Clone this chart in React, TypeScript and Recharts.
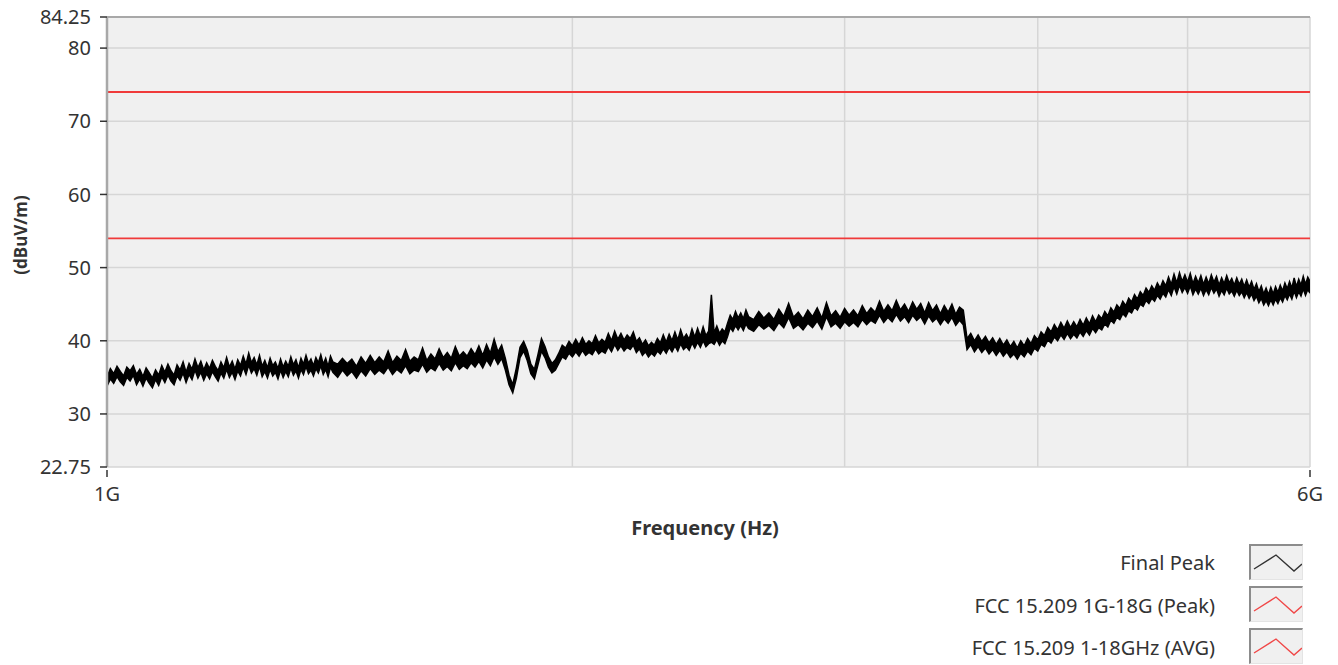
import React from "react";
import {
  ComposedChart,
  Area,
  Line,
  XAxis,
  YAxis,
  CartesianGrid,
  ReferenceLine,
} from "recharts";

// Final Peak trace, [frequency MHz, band bottom dBuV/m, band top dBuV/m]
const traceLow: [number, number, number][] = [
  [1000, 33.8, 35.0], [1005, 34.8, 36.2], [1010, 34.2, 35.5], [1015, 35.1, 36.5], [1020, 34.4, 35.8],
  [1025, 33.9, 35.2], [1030, 35.0, 36.4], [1035, 34.5, 35.9], [1040, 35.3, 36.6], [1045, 34.0, 35.4],
  [1050, 34.8, 36.1], [1055, 33.8, 35.1], [1060, 34.9, 36.3], [1065, 34.2, 35.6], [1070, 33.6, 34.9],
  [1075, 34.7, 36.0], [1080, 33.9, 35.3], [1085, 35.1, 36.6], [1090, 34.3, 35.7], [1095, 35.3, 36.8],
  [1100, 34.5, 35.9], [1105, 34.0, 35.3], [1110, 35.2, 36.7], [1115, 34.6, 36.0], [1120, 35.6, 37.1],
  [1125, 34.3, 35.7], [1130, 35.4, 36.9], [1135, 34.7, 36.1], [1140, 36.0, 37.5], [1145, 34.9, 36.3],
  [1150, 35.7, 37.2], [1155, 34.6, 36.0], [1160, 35.5, 37.0], [1165, 34.8, 36.2], [1170, 35.8, 37.3],
  [1175, 35.1, 36.5], [1180, 34.5, 35.9], [1185, 35.6, 37.1], [1190, 34.9, 36.3], [1195, 36.1, 37.7],
  [1200, 35.0, 36.4], [1205, 35.7, 37.2], [1210, 34.7, 36.1], [1215, 35.9, 37.4], [1220, 35.2, 36.6],
  [1225, 36.4, 37.9], [1230, 35.4, 36.8], [1235, 36.7, 38.3], [1240, 35.6, 37.0], [1245, 36.2, 37.7],
  [1250, 35.3, 36.7], [1255, 36.5, 38.0], [1260, 35.1, 36.5], [1265, 35.8, 37.3], [1270, 34.9, 36.3],
  [1275, 36.1, 37.6], [1280, 35.2, 36.6], [1285, 35.7, 37.1], [1290, 34.8, 36.2], [1295, 36.0, 37.5],
  [1300, 35.0, 36.4], [1305, 35.8, 37.2], [1310, 35.1, 36.5], [1315, 36.3, 37.8], [1320, 35.3, 36.7],
  [1325, 35.9, 37.4], [1330, 34.9, 36.3], [1335, 36.1, 37.6], [1340, 35.4, 36.8], [1345, 36.5, 38.0],
  [1350, 35.5, 36.9], [1355, 36.0, 37.5], [1360, 35.2, 36.6], [1365, 36.2, 37.7], [1370, 35.6, 37.0],
  [1375, 36.6, 38.1], [1380, 35.4, 36.8], [1385, 36.1, 37.6], [1390, 35.1, 36.5], [1395, 36.4, 37.9],
  [1400, 35.7, 37.1],
];

const traceMid: [number, number, number][] = [
  [1410, 35.0, 36.8], [1420, 36.0, 37.6], [1430, 35.2, 36.9], [1440, 35.8, 37.5], [1450, 34.9, 36.5],
  [1460, 35.9, 37.8], [1470, 35.2, 36.9], [1480, 36.2, 38.0], [1490, 35.4, 37.0], [1500, 36.0, 37.8],
  [1510, 35.5, 37.1], [1520, 36.4, 38.6], [1530, 35.4, 37.0], [1540, 36.1, 37.9], [1550, 35.6, 37.3],
  [1560, 36.6, 38.8], [1570, 35.5, 37.2], [1580, 36.0, 37.8], [1590, 35.8, 37.4], [1600, 36.8, 39.0],
  [1610, 35.7, 37.3], [1620, 36.3, 38.2], [1630, 35.9, 37.5], [1640, 36.9, 38.9], [1650, 36.0, 37.7],
  [1660, 36.5, 38.4], [1670, 35.9, 37.6], [1680, 37.0, 39.2], [1690, 36.1, 37.9], [1700, 36.6, 38.5],
  [1710, 36.2, 37.9], [1720, 37.0, 38.9], [1730, 36.4, 38.1], [1740, 37.2, 39.3], [1750, 36.3, 38.0],
  [1760, 37.4, 39.5], [1770, 36.6, 38.3], [1780, 37.8, 40.2], [1790, 36.8, 38.5], [1800, 37.6, 39.4],
  [1810, 36.0, 37.6], [1820, 34.0, 35.3], [1830, 32.9, 34.0], [1840, 34.9, 36.3], [1850, 37.7, 39.1],
  [1860, 38.6, 39.9], [1870, 37.3, 38.7], [1880, 35.5, 36.8], [1890, 34.8, 36.1], [1900, 36.7, 38.1],
  [1910, 38.6, 40.3], [1920, 37.7, 39.2], [1930, 36.4, 37.8], [1940, 35.6, 36.9], [1950, 36.0, 37.4],
  [1960, 36.9, 38.3], [1970, 37.8, 39.4], [1980, 37.5, 39.0], [1990, 38.3, 39.9], [2000, 37.8, 39.3],
  [2010, 38.5, 40.2], [2020, 37.9, 39.4], [2030, 38.7, 40.4], [2040, 38.0, 39.5], [2050, 38.4, 40.0],
  [2060, 38.1, 39.6], [2070, 38.9, 40.7], [2080, 38.2, 39.7], [2090, 38.6, 40.2], [2100, 38.3, 39.8],
  [2110, 39.2, 41.0], [2120, 38.5, 40.0], [2130, 39.5, 41.3], [2140, 38.7, 40.2], [2150, 39.3, 41.0],
  [2160, 38.6, 40.1], [2170, 39.1, 40.8], [2180, 38.8, 40.3], [2190, 39.4, 41.2], [2200, 38.4, 39.9],
  [2210, 38.9, 40.4], [2220, 38.0, 39.5], [2230, 38.5, 40.1], [2240, 37.8, 39.3], [2250, 38.3, 39.8],
  [2260, 37.9, 39.4], [2270, 38.6, 40.3], [2280, 38.2, 39.7], [2290, 38.9, 40.8], [2300, 38.3, 39.8],
  [2310, 39.1, 40.9], [2320, 38.5, 40.0], [2330, 39.3, 41.2], [2340, 38.6, 40.1], [2350, 39.6, 41.5],
  [2360, 38.8, 40.3], [2370, 39.2, 40.9], [2380, 38.7, 40.2], [2390, 39.7, 41.6], [2400, 39.0, 40.5],
  [2410, 39.8, 41.7], [2420, 39.1, 40.6], [2430, 40.0, 41.9], [2440, 39.2, 40.7], [2450, 39.6, 41.3],
  [2460, 39.8, 46.3], [2470, 39.5, 41.1], [2480, 40.2, 42.0], [2490, 39.4, 41.0], [2500, 40.0, 41.6],
  [2510, 39.6, 41.2], [2520, 40.6, 42.4], [2530, 41.8, 43.5], [2540, 41.3, 42.9], [2550, 42.1, 44.0],
  [2560, 41.5, 43.1], [2570, 42.1, 43.8], [2580, 41.4, 43.0], [2590, 42.3, 44.2], [2600, 41.7, 43.3],
];

const traceHigh: [number, number, number][] = [
  [2620, 41.3, 42.9], [2640, 42.2, 44.0], [2660, 41.6, 43.1], [2680, 42.1, 43.8], [2700, 41.4, 42.9],
  [2720, 42.5, 44.3], [2740, 41.8, 43.3], [2760, 43.2, 45.1], [2780, 41.7, 43.2], [2800, 42.2, 43.9],
  [2820, 41.5, 43.0], [2840, 42.4, 44.2], [2860, 41.8, 43.3], [2880, 42.7, 44.5], [2900, 41.6, 43.1],
  [2920, 43.3, 45.2], [2940, 41.9, 43.4], [2960, 42.4, 44.1], [2980, 41.7, 43.2], [3000, 42.6, 44.4],
  [3020, 42.0, 43.5], [3040, 42.5, 44.2], [3060, 41.9, 43.4], [3080, 42.9, 44.8], [3100, 42.2, 43.7],
  [3120, 42.8, 44.5], [3140, 42.4, 43.9], [3160, 43.5, 45.4], [3180, 42.5, 44.0], [3200, 43.2, 44.9],
  [3220, 42.6, 44.1], [3240, 43.6, 45.5], [3260, 42.7, 44.2], [3280, 43.3, 45.0], [3300, 42.5, 44.0],
  [3320, 43.5, 45.3], [3340, 42.8, 44.3], [3360, 43.3, 45.1], [3380, 42.3, 43.8], [3400, 43.4, 45.2],
  [3420, 42.6, 44.1], [3440, 43.1, 44.9], [3460, 42.2, 43.7], [3480, 43.0, 44.8], [3500, 42.4, 43.9],
  [3520, 43.2, 45.0], [3540, 42.1, 43.6], [3560, 42.8, 44.6], [3580, 42.2, 44.2], [3600, 38.8, 40.3],
  [3620, 39.5, 41.0], [3640, 38.5, 40.0], [3660, 39.2, 40.8], [3680, 38.4, 39.9], [3700, 39.0, 40.6],
  [3720, 38.2, 39.7], [3740, 38.8, 40.4], [3760, 38.0, 39.5], [3780, 38.7, 40.3], [3800, 37.9, 39.4],
  [3820, 38.5, 40.1], [3840, 37.7, 39.2], [3860, 38.2, 39.9], [3880, 37.5, 39.0], [3900, 38.3, 40.0],
  [3920, 37.8, 39.3], [3940, 38.6, 40.3], [3960, 38.1, 39.6], [3980, 39.0, 40.7], [4000, 38.6, 40.1],
  [4020, 39.5, 41.2], [4040, 39.2, 40.7], [4060, 40.1, 41.8], [4080, 39.7, 41.2], [4100, 40.5, 42.2],
  [4120, 40.0, 41.5], [4140, 40.8, 42.5], [4160, 40.2, 41.7], [4180, 41.0, 42.7], [4200, 40.3, 41.8],
  [4220, 40.9, 42.6], [4240, 40.4, 41.9], [4260, 41.2, 42.9], [4280, 40.6, 42.1], [4300, 41.4, 43.1],
  [4320, 40.8, 42.3], [4340, 41.7, 43.4], [4360, 41.1, 42.6], [4380, 41.8, 43.5], [4400, 41.5, 43.0],
  [4420, 42.3, 44.0], [4440, 41.9, 43.4], [4460, 42.8, 44.5], [4480, 42.4, 43.9], [4500, 43.2, 44.9],
  [4520, 42.9, 44.4], [4540, 43.7, 45.4], [4560, 43.3, 44.8], [4580, 44.1, 45.8], [4600, 43.8, 45.3],
  [4620, 44.6, 46.3], [4640, 44.2, 45.7], [4660, 45.0, 46.7], [4680, 44.7, 46.2], [4700, 45.5, 47.2],
  [4720, 45.1, 46.6], [4740, 45.8, 47.5], [4760, 45.4, 46.9], [4780, 46.2, 47.9], [4800, 45.7, 47.2],
  [4820, 46.5, 48.2], [4840, 46.0, 47.5], [4860, 47.0, 48.7], [4880, 46.2, 47.7], [4900, 47.4, 49.1],
  [4920, 46.4, 47.9], [4940, 47.6, 49.3], [4960, 46.6, 48.1], [4980, 47.3, 49.0], [5000, 46.5, 48.0],
  [5020, 47.5, 49.2], [5040, 46.3, 47.8], [5060, 47.1, 48.8], [5080, 46.4, 47.9], [5100, 47.2, 48.9],
  [5120, 46.2, 47.7], [5140, 47.0, 48.7], [5160, 46.3, 47.8], [5180, 47.3, 49.0], [5200, 46.5, 48.0],
  [5220, 47.1, 48.8], [5240, 46.1, 47.6], [5260, 46.9, 48.6], [5280, 46.3, 47.8], [5300, 47.2, 48.9],
  [5320, 46.4, 47.9], [5340, 46.8, 48.5], [5360, 46.1, 47.6], [5380, 46.9, 48.6], [5400, 46.2, 47.7],
  [5420, 46.7, 48.4], [5440, 45.9, 47.4], [5460, 46.6, 48.3], [5480, 45.8, 47.3], [5500, 46.4, 48.1],
  [5520, 45.5, 47.0], [5540, 46.1, 47.8], [5560, 45.2, 46.7], [5580, 45.8, 47.5], [5600, 44.9, 46.4],
  [5620, 45.5, 47.2], [5640, 44.8, 46.3], [5660, 45.6, 47.3], [5680, 44.9, 46.4], [5700, 45.7, 47.4],
  [5720, 45.1, 46.6], [5740, 45.9, 47.6], [5760, 45.3, 46.8], [5780, 46.2, 47.9], [5800, 45.6, 47.1],
  [5820, 46.4, 48.1], [5840, 45.7, 47.2], [5860, 46.8, 48.6], [5880, 45.9, 47.4], [5900, 46.7, 48.4],
  [5920, 46.1, 47.6], [5940, 47.1, 48.8], [5960, 46.2, 47.7], [5980, 47.0, 48.7], [6000, 46.5, 48.1],
];

// limit lines [frequency MHz, dBuV/m]
const peakLimit: [number, number][] = [[1000, 74], [6000, 74]];
const avgLimit: [number, number][] = [[1000, 54], [6000, 54]];

const yTicks = [22.75, 30, 40, 50, 60, 70, 80, 84.25];
const xTicks = [1000, 2000, 3000, 4000, 5000, 6000];
const xLabels: Record<number, string> = { 1000: "1G", 6000: "6G" };

const legendItems = [
  { name: "Final Peak", color: "#333333" },
  { name: "FCC 15.209 1G-18G (Peak)", color: "#f04848" },
  { name: "FCC 15.209 1-18GHz (AVG)", color: "#f04848" },
];

const FONT = "'Noto Sans', 'Open Sans', sans-serif";
const TEXT = "#333333";

const toPoints = (rows: [number, number][]) => rows.map(([f, v]) => ({ f, v }));
const toBand = (rows: [number, number, number][]) => rows.map(([f, lo, hi]) => ({ f, band: [lo, hi] }));

const XTick = (props: any) => {
  const { x, y, payload } = props;
  const label = xLabels[payload.value];
  if (!label) return null;
  return (
    <g>
      <line x1={x} x2={x} y1={y - 17} y2={y - 10} stroke={TEXT} strokeWidth={1.5} />
      <text x={x} y={y} dy="0.71em" textAnchor="middle" fill={TEXT} fontSize={20} fontFamily={FONT}>
        {label}
      </text>
    </g>
  );
};

export default function App() {
  const trace = toBand([...traceLow, ...traceMid, ...traceHigh]);

  return (
    <div style={{ position: "absolute", left: 0, top: 0, width: 1338, height: 665, background: "#fff", fontFamily: FONT }}>
      <ComposedChart width={1338} height={540} margin={{ top: 17, right: 28, bottom: 3, left: 0 }}>
        <CartesianGrid fill="#f0f0f0" stroke="#d6d6d6" strokeWidth={1.5} />
        <XAxis
          dataKey="f"
          type="number"
          scale="log"
          domain={[1000, 6000]}
          ticks={xTicks}
          interval={0}
          allowDataOverflow
          height={70}
          axisLine={false}
          tickLine={false}
          tickSize={10}
          tickMargin={10}
          tick={<XTick />}
        />
        <YAxis
          type="number"
          domain={[22.75, 84.25]}
          ticks={yTicks}
          interval={0}
          allowDataOverflow
          width={107}
          axisLine={{ stroke: "#a8a8a8", strokeWidth: 2.5 }}
          tickLine={{ stroke: TEXT, strokeWidth: 1.5 }}
          tickSize={7}
          tickMargin={9}
          tick={{ fill: TEXT, fontSize: 20, fontFamily: FONT }}
          tickFormatter={(v: number) => String(v)}
        />
        <ReferenceLine y={84.25} stroke="#a8a8a8" strokeWidth={2} />
        <Line
          data={toPoints(peakLimit)}
          dataKey="v"
          stroke="#f03a3a"
          strokeWidth={1.8}
          dot={false}
          isAnimationActive={false}
        />
        <Line
          data={toPoints(avgLimit)}
          dataKey="v"
          stroke="#f03a3a"
          strokeWidth={1.8}
          dot={false}
          isAnimationActive={false}
        />
        <Area
          data={trace}
          dataKey="band"
          type="linear"
          stroke="#000000"
          strokeWidth={1.5}
          fill="#000000"
          fillOpacity={1}
          dot={false}
          activeDot={false}
          isAnimationActive={false}
        />
      </ComposedChart>

      <div
        style={{
          position: "absolute",
          left: 20,
          top: 235,
          transform: "translate(-50%, -50%) rotate(-90deg)",
          fontWeight: 700,
          fontSize: 17,
          color: TEXT,
          whiteSpace: "nowrap",
        }}
      >
        (dBuV/m)
      </div>
      <div
        style={{
          position: "absolute",
          left: 705,
          top: 527,
          transform: "translate(-50%, -50%)",
          fontWeight: 700,
          fontSize: 20,
          color: TEXT,
          whiteSpace: "nowrap",
        }}
      >
        Frequency (Hz)
      </div>

      {legendItems.map((item, i) => (
        <div key={item.name}>
          <div
            style={{
              position: "absolute",
              right: 1338 - 1215,
              top: 562 + i * 42.5,
              transform: "translateY(-50%)",
              fontSize: 20,
              color: TEXT,
              whiteSpace: "nowrap",
            }}
          >
            {item.name}
          </div>
          <div
            style={{
              position: "absolute",
              left: 1249,
              top: 544 + i * 42,
              width: 51,
              height: 33,
              background: "#f0f0f0",
              borderTop: "2px solid #8c8c8c",
              borderLeft: "2px solid #8c8c8c",
              borderRight: "1px solid #e4e4e4",
              borderBottom: "1px solid #e4e4e4",
            }}
          >
            <svg width={51} height={33} style={{ display: "block" }}>
              <polyline
                points="3,23 25,9 43,25 51,18"
                fill="none"
                stroke={item.color}
                strokeWidth={1.4}
              />
            </svg>
          </div>
        </div>
      ))}
    </div>
  );
}
